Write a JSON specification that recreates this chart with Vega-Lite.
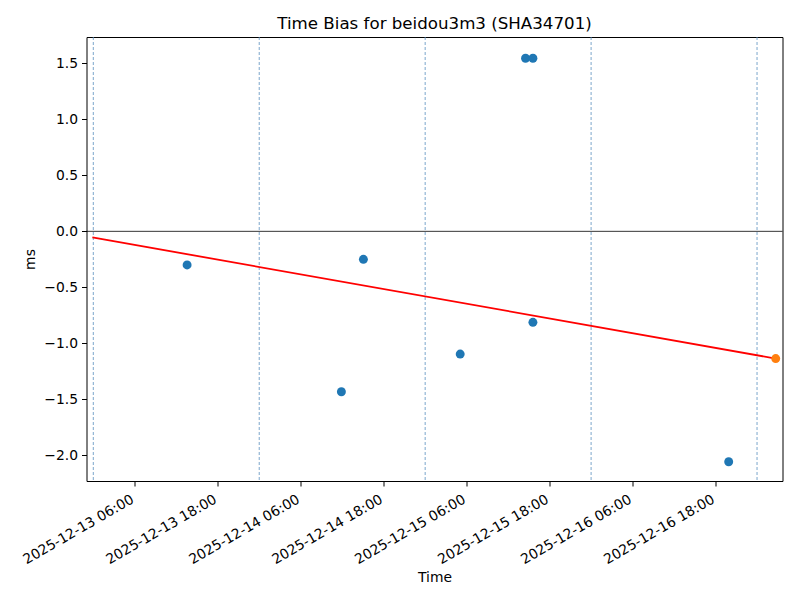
{
  "$schema": "https://vega.github.io/schema/vega-lite/v6.json",
  "autosize": "none",
  "width": 696,
  "height": 444,
  "padding": {"left": 86.5, "top": 37, "right": 17.5, "bottom": 119},
  "background": "white",
  "config": {
    "font": "DejaVu Sans",
    "view": {"stroke": "black", "strokeWidth": 1},
    "axis": {
      "grid": false,
      "domain": false,
      "tickColor": "black",
      "tickSize": 5,
      "tickWidth": 1,
      "labelColor": "black",
      "labelFont": "DejaVu Sans",
      "labelFontSize": 13.89,
      "titleFont": "DejaVu Sans",
      "titleFontSize": 13.89,
      "titleFontWeight": "normal",
      "titleColor": "black"
    }
  },
  "title": {
    "text": "Time Bias for beidou3m3 (SHA34701)",
    "font": "DejaVu Sans",
    "fontSize": 16.67,
    "fontWeight": "normal",
    "color": "black",
    "anchor": "middle",
    "baseline": "alphabetic",
    "offset": -9
  },
  "datasets": {
    "points": [
      {"time": "2025-12-13T13:34:00Z", "bias": -0.30, "kind": "history"},
      {"time": "2025-12-14T11:53:00Z", "bias": -1.432, "kind": "history"},
      {"time": "2025-12-14T15:04:00Z", "bias": -0.25, "kind": "history"},
      {"time": "2025-12-15T05:04:00Z", "bias": -1.096, "kind": "history"},
      {"time": "2025-12-15T14:31:00Z", "bias": 1.545, "kind": "history"},
      {"time": "2025-12-15T15:35:00Z", "bias": 1.545, "kind": "history"},
      {"time": "2025-12-15T15:35:00Z", "bias": -0.8125, "kind": "history"},
      {"time": "2025-12-16T19:54:00Z", "bias": -2.057, "kind": "history"},
      {"time": "2025-12-17T02:42:00Z", "bias": -1.136, "kind": "latest"}
    ],
    "fit": [
      {"time": "2025-12-12T23:52:00Z", "bias": -0.054},
      {"time": "2025-12-17T02:42:00Z", "bias": -1.136}
    ],
    "days": [
      {"time": "2025-12-13T00:00:00Z"},
      {"time": "2025-12-14T00:00:00Z"},
      {"time": "2025-12-15T00:00:00Z"},
      {"time": "2025-12-16T00:00:00Z"},
      {"time": "2025-12-17T00:00:00Z"}
    ],
    "zero": [{"bias": 0}]
  },
  "encoding": {
    "x": {
      "field": "time",
      "type": "temporal",
      "title": "Time",
      "scale": {
        "type": "utc",
        "domain": [
          {"year": 2025, "month": 12, "date": 12, "hours": 23, "minutes": 1, "utc": true},
          {"year": 2025, "month": 12, "date": 17, "hours": 3, "minutes": 41, "utc": true}
        ],
        "nice": false
      },
      "axis": {
        "values": [
          {"year": 2025, "month": 12, "date": 13, "hours": 6, "utc": true},
          {"year": 2025, "month": 12, "date": 13, "hours": 18, "utc": true},
          {"year": 2025, "month": 12, "date": 14, "hours": 6, "utc": true},
          {"year": 2025, "month": 12, "date": 14, "hours": 18, "utc": true},
          {"year": 2025, "month": 12, "date": 15, "hours": 6, "utc": true},
          {"year": 2025, "month": 12, "date": 15, "hours": 18, "utc": true},
          {"year": 2025, "month": 12, "date": 16, "hours": 6, "utc": true},
          {"year": 2025, "month": 12, "date": 16, "hours": 18, "utc": true}
        ],
        "format": "%Y-%m-%d %H:%M",
        "labelAngle": -30,
        "labelAlign": "right",
        "labelBaseline": "top",
        "labelOffset": -6,
        "labelPadding": 6,
        "labelOverlap": false,
        "titlePadding": 4
      }
    },
    "y": {
      "field": "bias",
      "type": "quantitative",
      "title": "ms",
      "scale": {"domain": [-2.229, 1.735], "nice": false, "zero": false},
      "axis": {
        "values": [-2, -1.5, -1, -0.5, 0, 0.5, 1, 1.5],
        "format": ".1f",
        "labelPadding": 4,
        "titlePadding": 6
      }
    }
  },
  "layer": [
    {
      "data": {"name": "days"},
      "mark": {"type": "rule", "color": "#5a8fbf", "opacity": 1, "strokeWidth": 0.8, "strokeDash": [3, 2]},
      "encoding": {"y": null}
    },
    {
      "data": {"name": "zero"},
      "mark": {"type": "rule", "color": "black", "strokeWidth": 0.8},
      "encoding": {"x": null}
    },
    {
      "data": {"name": "fit"},
      "mark": {"type": "line", "color": "#ff0000", "strokeWidth": 1.8}
    },
    {
      "data": {"name": "points"},
      "mark": {"type": "circle", "opacity": 1, "size": 80},
      "encoding": {
        "color": {
          "field": "kind",
          "type": "nominal",
          "scale": {"domain": ["history", "latest"], "range": ["#1f77b4", "#ff7f0e"]},
          "legend": null
        }
      }
    }
  ]
}
